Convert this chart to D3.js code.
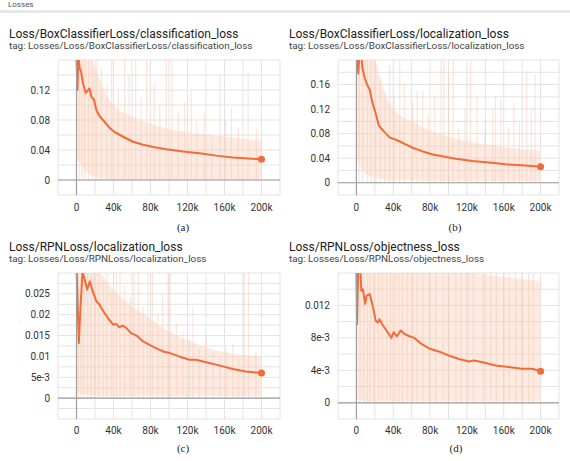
<!DOCTYPE html>
<html><head><meta charset="utf-8">
<script src="https://cdn.jsdelivr.net/npm/d3@7"></script>
<style>body{margin:0;background:#fff}svg{display:block}</style>
</head><body>
<svg id="c" width="570" height="461"></svg>
<script>
// ---------- DATA ----------
const xTickValues = [0, 40000, 80000, 120000, 160000, 200000];
const xTickLabels = ["0", "40k", "80k", "120k", "160k", "200k"];

const titles = [
  "Loss/BoxClassifierLoss/classification_loss",
  "Loss/BoxClassifierLoss/localization_loss",
  "Loss/RPNLoss/localization_loss",
  "Loss/RPNLoss/objectness_loss"
];
const tags = [
  "tag: Losses/Loss/BoxClassifierLoss/classification_loss",
  "tag: Losses/Loss/BoxClassifierLoss/localization_loss",
  "tag: Losses/Loss/RPNLoss/localization_loss",
  "tag: Losses/Loss/RPNLoss/objectness_loss"
];
const captions = ["(a)", "(b)", "(c)", "(d)"];

const yTicksA = [0, 0.04, 0.08, 0.12];
const yLabelsA = ["0", "0.04", "0.08", "0.12"];
const yTicksB = [0, 0.04, 0.08, 0.12, 0.16];
const yLabelsB = ["0", "0.04", "0.08", "0.12", "0.16"];
const yTicksC = [0, 0.005, 0.01, 0.015, 0.02, 0.025];
const yLabelsC = ["0", "5e-3", "0.01", "0.015", "0.02", "0.025"];
const yTicksD = [0, 0.004, 0.008, 0.012];
const yLabelsD = ["0", "4e-3", "8e-3", "0.012"];

// smoothed series
const smA_steps = [0, 1000, 2000, 3500, 5000, 7000, 10000, 12500, 14000, 16000, 19000, 21500, 25000, 30000, 35500, 41000, 50000, 61000, 72000, 83000, 97000, 115000, 133000, 151000, 169000, 200000];
const smA_vals = [0.165, 0.12, 0.165, 0.149, 0.144, 0.129, 0.116, 0.12, 0.122, 0.111, 0.107, 0.093, 0.085, 0.078, 0.070, 0.064, 0.058, 0.051, 0.047, 0.044, 0.041, 0.038, 0.0356, 0.0325, 0.030, 0.0276];

const smB_steps = [0, 2000, 4000, 6500, 9000, 11500, 14400, 17000, 21000, 24500, 29000, 36000, 43000, 54000, 61000, 72000, 83000, 97000, 108000, 126000, 144000, 162000, 180000, 200000];
const smB_vals = [0.23, 0.178, 0.23, 0.187, 0.171, 0.160, 0.152, 0.133, 0.112, 0.093, 0.085, 0.074, 0.070, 0.062, 0.057, 0.051, 0.046, 0.042, 0.039, 0.0355, 0.033, 0.030, 0.0285, 0.026];

const smC_steps = [0, 2500, 4000, 6500, 9000, 11500, 14400, 17000, 21500, 25000, 29000, 34000, 39500, 43000, 46000, 50000, 54000, 59000, 65000, 72000, 83000, 93500, 101000, 111000, 122000, 129000, 140000, 155000, 169000, 183000, 200000];
const smC_vals = [0.032, 0.0132, 0.0204, 0.0302, 0.0284, 0.026, 0.028, 0.026, 0.0232, 0.0224, 0.0208, 0.0192, 0.0176, 0.0178, 0.017, 0.0174, 0.0168, 0.0156, 0.015, 0.0136, 0.0123, 0.0112, 0.0108, 0.0100, 0.0092, 0.0092, 0.0086, 0.0078, 0.0070, 0.0064, 0.0060];

const smD_steps = [0, 700, 2000, 4000, 5400, 7000, 9500, 11000, 14400, 18000, 21000, 23400, 25000, 29000, 34000, 38000, 40500, 44000, 48000, 52000, 57500, 63000, 70000, 79000, 90000, 101000, 111500, 122000, 128000, 137000, 151000, 165000, 180000, 191000, 200000];
const smD_vals = [0.017, 0.0097, 0.017, 0.017, 0.0138, 0.014, 0.0122, 0.0132, 0.0134, 0.0118, 0.0101, 0.0099, 0.0103, 0.0095, 0.0087, 0.008, 0.0087, 0.0082, 0.0089, 0.0085, 0.0082, 0.008, 0.0073, 0.0067, 0.0063, 0.0058, 0.0054, 0.0051, 0.0052, 0.005, 0.0046, 0.0044, 0.0042, 0.0042, 0.0039];

// raw (unsmoothed) band envelope
const rawSteps = [0, 5000, 10000, 20000, 30000, 40000, 60000, 80000, 100000, 130000, 160000, 200000];
const rawA_low = [0.03, 0.02, 0.012, 0.004, 0.002, 0.001, 0.001, 0.001, 0.001, 0.001, 0.001, 0.001];
const rawA_high = [0.17, 0.17, 0.17, 0.15, 0.12, 0.10, 0.085, 0.075, 0.068, 0.062, 0.058, 0.052];
const rawB_low = [0.04, 0.025, 0.015, 0.008, 0.005, 0.004, 0.004, 0.003, 0.003, 0.003, 0.003, 0.003];
const rawB_high = [0.22, 0.22, 0.22, 0.2, 0.15, 0.12, 0.1, 0.085, 0.075, 0.065, 0.058, 0.052];
const rawC_low = [0.002, 0.001, 0.0008, 0.0006, 0.0005, 0.0005, 0.0005, 0.0005, 0.0005, 0.0005, 0.0005, 0.0005];
const rawC_high = [0.031, 0.031, 0.031, 0.031, 0.029, 0.026, 0.022, 0.019, 0.016, 0.013, 0.011, 0.010];
const rawD_low = [0.0004, 0.0003, 0.0002, 0.0002, 0.0002, 0.0002, 0.0002, 0.0002, 0.0002, 0.0002, 0.0002, 0.0002];
const rawD_high = [0.0165, 0.0165, 0.0165, 0.0165, 0.0165, 0.0165, 0.0165, 0.0165, 0.0165, 0.016, 0.0155, 0.015];

// raw spikes [step, value]
const spikesA = [[3000,0.17],[6000,0.17],[9000,0.17],[13000,0.17],[17000,0.17],[22000,0.17],[27000,0.15],[33000,0.13],[38000,0.17],[45000,0.12],[52000,0.17],[57000,0.14],[64000,0.17],[70000,0.11],[76000,0.17],[84000,0.13],[90000,0.10],[97000,0.17],[103000,0.17],[110000,0.09],[117000,0.104],[124000,0.12],[130000,0.078],[138000,0.09],[146000,0.056],[155000,0.14],[161000,0.08],[167500,0.096],[175000,0.07],[185500,0.144],[194500,0.069]];
const spikesB = [[3000,0.22],[7000,0.22],[12000,0.22],[16000,0.22],[21000,0.2],[26000,0.17],[31000,0.15],[36000,0.19],[41000,0.14],[47000,0.22],[52000,0.16],[61000,0.13],[66000,0.15],[72000,0.15],[78000,0.11],[85000,0.14],[92000,0.22],[95000,0.22],[100000,0.18],[105000,0.22],[111000,0.088],[118000,0.12],[124000,0.22],[131000,0.14],[140000,0.1],[148000,0.12],[151000,0.14],[157000,0.136],[165000,0.09],[171000,0.13],[177000,0.1],[185000,0.184],[190000,0.12],[194000,0.177]];
const spikesC = [[2000,0.031],[5000,0.031],[8000,0.031],[12000,0.031],[16000,0.031],[20000,0.031],[24000,0.031],[29000,0.028],[33000,0.031],[38000,0.025],[43000,0.031],[47000,0.031],[52000,0.027],[58000,0.024],[62000,0.031],[67000,0.031],[72000,0.022],[77000,0.031],[82000,0.031],[88000,0.02],[93000,0.025],[99000,0.031],[101000,0.031],[108000,0.018],[115000,0.016],[122000,0.014],[126000,0.022],[133000,0.012],[140000,0.015],[148000,0.011],[155000,0.0097],[162000,0.012],[169000,0.013],[175000,0.01],[181000,0.031],[186000,0.031],[194000,0.011]];
const spikesD = [[4000,0.0165],[8000,0.0165],[12000,0.0165],[15000,0.0165],[19000,0.0165],[24000,0.0165],[28000,0.0165],[33000,0.0165],[37000,0.0165],[42000,0.0165],[46000,0.0165],[50000,0.0165],[55000,0.0165],[61000,0.0165],[66000,0.0165],[72000,0.0165],[79000,0.0165],[86000,0.0165],[94000,0.0165],[100000,0.0165],[108000,0.0165],[114000,0.0165],[121000,0.0165],[127000,0.0165],[138000,0.0165],[146000,0.0165],[152000,0.0165],[160000,0.0165],[166000,0.0165],[173000,0.0165],[180000,0.0165],[187000,0.0165],[192000,0.0165]];

// ---------- LAYOUT ----------
const panels = [
  {L:58, R:280, T:60, B:195, yDom:[-0.02,0.16], yGrid:0.02, yTicks:yTicksA, yLabels:yLabelsA, sSteps:smA_steps, sVals:smA_vals, low:rawA_low, high:rawA_high, spikes:spikesA, titleX:9, titleY:38, capX:183, capY:231, xLabY:210.5},
  {L:338, R:559, T:60, B:195, yDom:[-0.02,0.2], yGrid:0.02, yTicks:yTicksB, yLabels:yLabelsB, sSteps:smB_steps, sVals:smB_vals, low:rawB_low, high:rawB_high, spikes:spikesB, titleX:289, titleY:38, capX:455, capY:231, xLabY:210.5},
  {L:58, R:280, T:273, B:419, yDom:[-0.005,0.03], yGrid:0.0025, yTicks:yTicksC, yLabels:yLabelsC, sSteps:smC_steps, sVals:smC_vals, low:rawC_low, high:rawC_high, spikes:spikesC, titleX:9, titleY:251, capX:183, capY:452, xLabY:434},
  {L:338, R:559, T:273, B:419, yDom:[-0.002,0.016], yGrid:0.002, yTicks:yTicksD, yLabels:yLabelsD, sSteps:smD_steps, sVals:smD_vals, low:rawD_low, high:rawD_high, spikes:spikesD, titleX:289, titleY:251, capX:456, capY:452, xLabY:434}
];

const svg = d3.select("#c");
const FONT = "Roboto, 'Noto Sans', sans-serif";

// header
svg.append("text").attr("x", 8).attr("y", 7).attr("font-family", FONT).attr("font-size", 8)
  .attr("fill", "#555").text("Losses");
svg.append("rect").attr("x", 0).attr("y", 10).attr("width", 570).attr("height", 3).attr("fill", "#e8e8e8");

const orange = "#f26b3a";

panels.forEach((p, i) => {
  const x = d3.scaleLinear().domain([-20000, 220000]).range([p.L, p.R]);
  const y = d3.scaleLinear().domain(p.yDom).range([p.B, p.T]);
  const g = svg.append("g");

  // title & tag
  g.append("text").attr("x", p.titleX).attr("y", p.titleY).attr("font-family", FONT)
    .attr("font-size", 12).attr("fill", "#222").text(titles[i]);
  g.append("text").attr("x", p.titleX).attr("y", p.titleY + 11).attr("font-family", FONT)
    .attr("font-size", 9.9).attr("fill", "#444").text(tags[i]);

  // grid
  const gx = d3.range(-20000, 220001, 20000);
  const nY = Math.round((p.yDom[1] - p.yDom[0]) / p.yGrid);
  const gy = d3.range(0, nY + 1).map(k => p.yDom[0] + k * p.yGrid);
  g.selectAll(".gv").data(gx).join("line")
    .attr("x1", d => x(d)).attr("x2", d => x(d)).attr("y1", p.T).attr("y2", p.B)
    .attr("stroke", "#e3e3e3").attr("stroke-width", 1);
  g.selectAll(".gh").data(gy).join("line")
    .attr("x1", p.L).attr("x2", p.R).attr("y1", d => y(d)).attr("y2", d => y(d))
    .attr("stroke", "#e3e3e3").attr("stroke-width", 1);

  const clipId = "clip" + i;
  svg.append("clipPath").attr("id", clipId).append("rect")
    .attr("x", p.L).attr("y", p.T).attr("width", p.R - p.L).attr("height", p.B - p.T);
  const plot = g.append("g").attr("clip-path", `url(#${clipId})`);

  // raw band
  const band = rawSteps.map((s, k) => ({s, lo: p.low[k], hi: p.high[k]}));
  plot.append("path").datum(band)
    .attr("d", d3.area().x(d => x(d.s)).y0(d => y(d.lo)).y1(d => y(d.hi)).curve(d3.curveMonotoneX))
    .attr("fill", "#fbd3bf").attr("opacity", 0.45);
  // raw spikes
  plot.selectAll(".sp").data(p.spikes).join("line")
    .attr("x1", d => x(d[0])).attr("x2", d => x(d[0]))
    .attr("y1", y(0)).attr("y2", d => y(d[1]))
    .attr("stroke", "#f9c3a8").attr("stroke-width", 1.3).attr("opacity", 0.4);

  // axes lines (zero)
  g.append("line").attr("x1", p.L).attr("x2", p.R).attr("y1", y(0)).attr("y2", y(0))
    .attr("stroke", "#9e9e9e").attr("stroke-width", 1.2);
  g.append("line").attr("x1", x(0)).attr("x2", x(0)).attr("y1", p.T).attr("y2", p.B)
    .attr("stroke", "#9e9e9e").attr("stroke-width", 1.2);

  // smoothed line
  const pts = p.sSteps.map((s, k) => [s, p.sVals[k]]);
  plot.append("path").datum(pts)
    .attr("d", d3.line().x(d => x(d[0])).y(d => y(d[1])))
    .attr("fill", "none").attr("stroke", orange).attr("stroke-width", 2).attr("stroke-linejoin", "round");
  const last = pts[pts.length - 1];
  g.append("circle").attr("cx", x(last[0])).attr("cy", y(last[1])).attr("r", 3.5).attr("fill", orange);

  // y tick labels
  g.selectAll(".yl").data(p.yTicks).join("text")
    .attr("x", p.L - 8).attr("y", d => y(d) + 3.5).attr("text-anchor", "end")
    .attr("font-family", FONT).attr("font-size", 10).attr("fill", "#333")
    .text((d, k) => p.yLabels[k]);
  // x tick labels
  g.selectAll(".xl").data(xTickValues).join("text")
    .attr("x", d => x(d)).attr("y", p.xLabY).attr("text-anchor", "middle")
    .attr("font-family", FONT).attr("font-size", 10).attr("fill", "#333")
    .text((d, k) => xTickLabels[k]);

  // caption
  g.append("text").attr("x", p.capX).attr("y", p.capY).attr("text-anchor", "middle")
    .attr("font-family", "'Liberation Serif', 'DejaVu Serif', serif").attr("font-size", 11)
    .attr("fill", "#222").text(captions[i]);
});
</script>
</body></html>
